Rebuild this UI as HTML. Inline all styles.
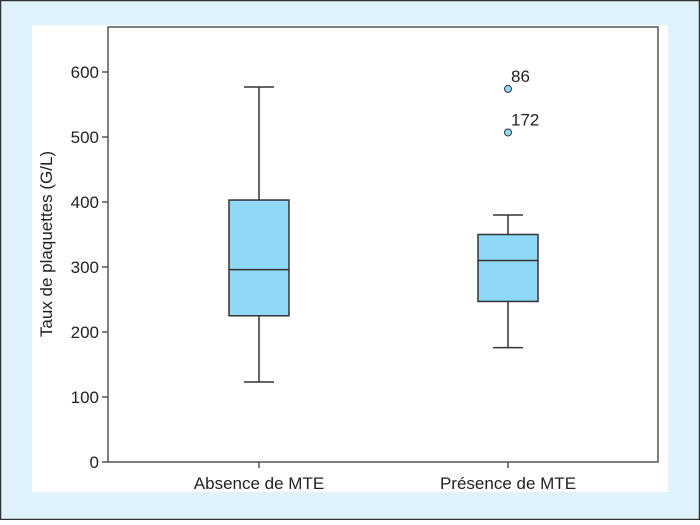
<!DOCTYPE html>
<html><head><meta charset="utf-8"><style>
html,body{margin:0;padding:0;}
body{width:700px;height:520px;overflow:hidden;font-family:"Liberation Sans",sans-serif;}
</style></head><body>
<svg width="700" height="520" xmlns="http://www.w3.org/2000/svg">
<rect x="0.5" y="0.5" width="699" height="519" fill="#e0f2fc" stroke="#333" stroke-width="1.5"/>
<rect x="32" y="25" width="636" height="467" fill="#fff"/>
<rect x="108" y="27" width="550" height="435" fill="none" stroke="#555" stroke-width="1.5"/>
<text transform="translate(52,244) rotate(-90)" text-anchor="middle" font-size="17" fill="#222">Taux de plaquettes (G/L)</text>
<g id="yaxis"></g>
<g id="xaxis"></g>
<g id="boxes"></g>
</svg>
<script>
const categories=["Absence de MTE","Présence de MTE"];
const whiskerLow=[123,176];
const q1=[225,247];
const median=[296,310];
const q3=[403,350];
const whiskerHigh=[577,380];
const outlierCat=[1,1];
const outlierVal=[574,507];
const outlierLabel=["86","172"];
const yTicks=[0,100,200,300,400,500,600];
const NS="http://www.w3.org/2000/svg";
function y(v){return 462-v*0.65;}
function x(i){return 259+i*249;}
function mk(tag,attrs,parent){const e=document.createElementNS(NS,tag);for(const k in attrs)e.setAttribute(k,attrs[k]);parent.appendChild(e);return e;}
const ya=document.getElementById('yaxis'),xa=document.getElementById('xaxis'),bx=document.getElementById('boxes');
yTicks.forEach(t=>{
 const l=mk('line',{x1:102,x2:108,y1:y(t),y2:y(t),stroke:'#555','stroke-width':1.5},ya);
 
 
 const tx=mk('text',{x:99,y:y(t)+6,'text-anchor':'end','font-size':17,fill:'#222'},ya);
 tx.textContent=t;
 
 
});
categories.forEach((c,i)=>{
 const cx=x(i);
 const l=mk('line',{x1:cx,x2:cx,y1:462,y2:468,stroke:'#555','stroke-width':1.5},xa);
 
 
 const tx=mk('text',{x:cx,y:489,'text-anchor':'middle','font-size':17,fill:'#222'},xa);
 tx.textContent=c;
 
 
 const g=mk('g',{},bx);
 
 
 const st={stroke:'#333','stroke-width':1.5};
 mk('line',Object.assign({x1:cx,x2:cx,y1:y(whiskerHigh[i]),y2:y(q3[i])},st),g);
 mk('line',Object.assign({x1:cx,x2:cx,y1:y(q1[i]),y2:y(whiskerLow[i])},st),g);
 mk('line',Object.assign({x1:cx-15,x2:cx+15,y1:y(whiskerHigh[i]),y2:y(whiskerHigh[i])},st),g);
 mk('line',Object.assign({x1:cx-15,x2:cx+15,y1:y(whiskerLow[i]),y2:y(whiskerLow[i])},st),g);
 mk('rect',Object.assign({x:cx-30,y:y(q3[i]),width:60,height:y(q1[i])-y(q3[i]),fill:'#8fd8f8'},st),g);
 mk('line',Object.assign({x1:cx-30,x2:cx+30,y1:y(median[i]),y2:y(median[i])},st),g);
});
outlierVal.forEach((v,k)=>{
 const cx=x(outlierCat[k]);
 const c=mk('circle',{cx:cx,cy:y(v),r:3.5,fill:'#8fd8f8',stroke:'#333','stroke-width':1},bx);
 
 
 const t=mk('text',{x:cx+3,y:y(v)-7,'font-size':17,fill:'#222'},bx);
 t.textContent=outlierLabel[k];
 
 
});
</script>
</body></html>
